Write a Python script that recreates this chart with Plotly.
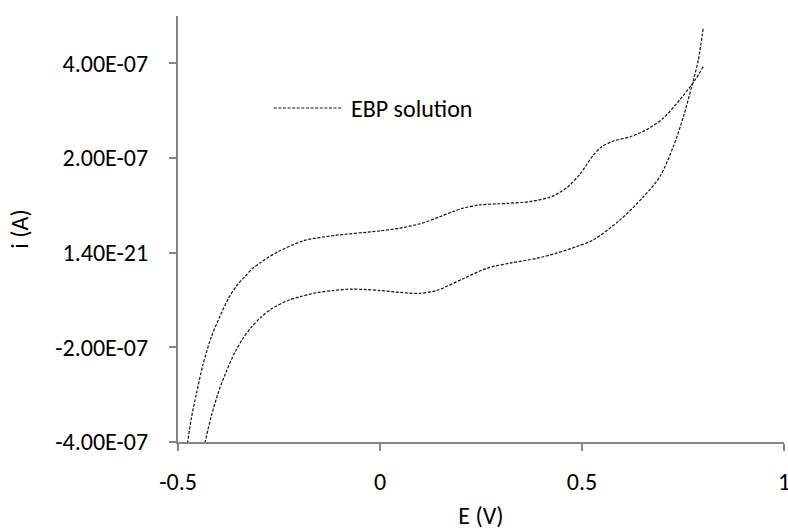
import plotly.graph_objects as go

# Cyclic voltammogram of the EBP solution
# Sweep 1: from the positive vertex towards negative potentials
E_sweep1 = [0.800, 0.780, 0.743, 0.701, 0.660, 0.620, 0.578, 0.549, 0.528, 0.495,
            0.462, 0.429, 0.4125, 0.371, 0.314, 0.2475, 0.206, 0.181, 0.1485,
            0.099, 0.0495, 0.0, -0.116, -0.19, -0.2525, -0.2805, -0.294, -0.315, -0.335,
            -0.355, -0.376, -0.397, -0.4175, -0.438, -0.455, -0.467, -0.476, -0.482]
I_sweep1 = [3.93e-7, 3.65e-7, 3.24e-7, 2.84e-7, 2.60e-7, 2.45e-7, 2.36e-7, 2.24e-7, 2.06e-7, 1.66e-7,
            1.37e-7, 1.20e-7, 1.15e-7, 1.08e-7, 1.04e-7, 1.01e-7, 0.94e-7, 0.87e-7, 0.76e-7,
            0.61e-7, 0.52e-7, 0.46e-7, 0.36e-7, 0.25e-7, 0.02e-7, -0.12e-7, -0.20e-7, -0.33e-7, -0.51e-7,
            -0.70e-7, -0.98e-7, -1.36e-7, -1.78e-7, -2.36e-7, -3.00e-7, -3.50e-7, -4.00e-7, -4.35e-7]

# Sweep 2: back from the negative end towards the positive vertex
E_sweep2 = [-0.441, -0.434, -0.4175, -0.40, -0.38, -0.36, -0.34, -0.319, -0.294, -0.2695,
            -0.2277, -0.198, -0.153, -0.116, -0.071, -0.033, 0.0, 0.0495, 0.099, 0.140,
            0.206, 0.264, 0.322, 0.388, 0.437, 0.487, 0.528, 0.594, 0.652, 0.693,
            0.726, 0.751, 0.7715, 0.788, 0.800]
I_sweep2 = [-4.30e-7, -4.04e-7, -3.45e-7, -2.95e-7, -2.50e-7, -2.12e-7, -1.82e-7, -1.58e-7, -1.36e-7, -1.19e-7,
            -1.01e-7, -0.93e-7, -0.84e-7, -0.80e-7, -0.77e-7, -0.78e-7, -0.80e-7, -0.84e-7, -0.86e-7, -0.80e-7,
            -0.55e-7, -0.33e-7, -0.22e-7, -0.12e-7, -0.01e-7, 0.13e-7, 0.27e-7, 0.69e-7, 1.18e-7, 1.61e-7,
            2.24e-7, 2.87e-7, 3.51e-7, 4.07e-7, 4.74e-7]

x_ticks = [-0.5, 0, 0.5, 1]
x_ticktext = ["-0.5", "0", "0.5", "1"]
y_ticks = [-4e-7, -2e-7, 0, 2e-7, 4e-7]
y_ticktext = ["-4.00E-07", "-2.00E-07", "1.40E-21", "2.00E-07", "4.00E-07"]
series_name = "EBP solution"

FONT = "Carlito, Lato, 'Open Sans', sans-serif"
FONT_SIZE = 24
AXIS_GRAY = "#868686"
line_style = dict(color="#111111", width=1.2, dash="3px,1.6px", shape="spline", smoothing=0.8)

fig = go.Figure()
fig.add_trace(go.Scatter(x=E_sweep1, y=I_sweep1, mode="lines", line=line_style,
                         name=series_name, showlegend=False))
fig.add_trace(go.Scatter(x=E_sweep2, y=I_sweep2, mode="lines", line=line_style,
                         name=series_name, showlegend=False))

# legend key drawn as a line sample plus its label
fig.add_shape(type="line", xref="paper", yref="paper", x0=0.158, x1=0.270, y0=0.784, y1=0.784,
              line=dict(color="#111111", width=1.2, dash="3px,1.6px"))
fig.add_annotation(xref="paper", yref="paper", x=0.283, y=0.784, xanchor="left", yanchor="middle",
                   text=series_name, showarrow=False, font=dict(family=FONT, size=FONT_SIZE, color="#000"))

fig.update_layout(
    width=788, height=530,
    margin=dict(l=178, r=4, t=16, b=88),
    paper_bgcolor="white", plot_bgcolor="white",
    font=dict(family=FONT, size=FONT_SIZE, color="#000"),
    showlegend=False,
)
fig.update_xaxes(
    range=[-0.5, 1], tickvals=x_ticks, ticktext=x_ticktext,
    ticklabeloverflow="allow", automargin=False,
    showline=True, linecolor=AXIS_GRAY, linewidth=2, showgrid=False, zeroline=False,
    ticks="outside", ticklen=7, tickwidth=2, tickcolor=AXIS_GRAY, ticklabelstandoff=10,
    title=dict(text="E (V)", standoff=13, font=dict(size=FONT_SIZE)),
)
fig.update_yaxes(
    range=[-4e-7, 5e-7], tickvals=y_ticks, ticktext=y_ticktext, automargin=False,
    showline=True, linecolor=AXIS_GRAY, linewidth=2, showgrid=False, zeroline=False,
    ticks="outside", ticklen=7, tickwidth=2, tickcolor=AXIS_GRAY, ticklabelstandoff=16,
    title=dict(text="i (A)", standoff=20, font=dict(size=FONT_SIZE)),
)

fig.write_html("out.html")
